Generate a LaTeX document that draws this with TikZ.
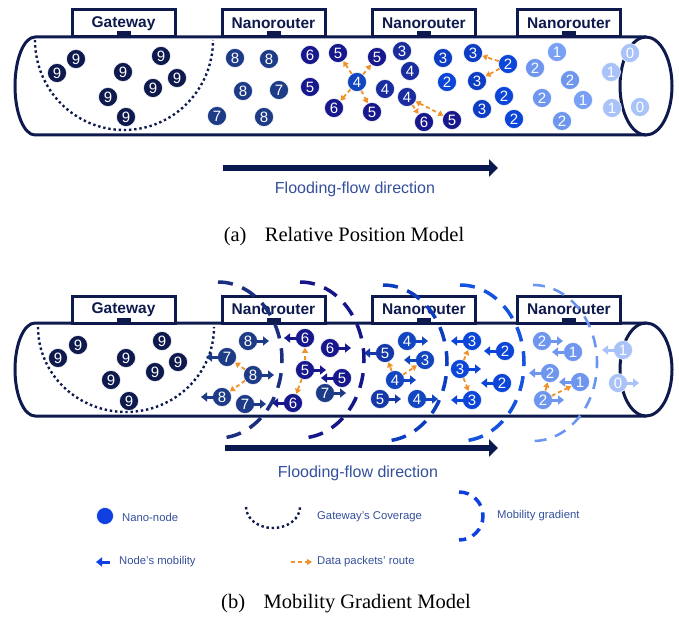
\documentclass[tikz,border=0pt]{standalone}
\usepackage{fontspec}
\setmainfont{Liberation Serif}
\setsansfont{Liberation Sans}
\usetikzlibrary{arrows.meta, positioning}

\definecolor{navy}{HTML}{0E1A4E}
\definecolor{flownavy}{HTML}{0A1850}
\definecolor{cnine}{HTML}{0E1A4E}
\definecolor{ceight}{HTML}{1D3B86}
\definecolor{csix}{HTML}{17188E}
\definecolor{cfive}{HTML}{1438A8}
\definecolor{cfour}{HTML}{1A2D9E}
\definecolor{cfourb}{HTML}{1245C0}
\definecolor{cthree}{HTML}{0D3DC4}
\definecolor{ctwo}{HTML}{0B46D8}
\definecolor{ctwol}{HTML}{6E96EE}
\definecolor{cone}{HTML}{78A0F4}
\definecolor{czero}{HTML}{A9C3F8}
\definecolor{cleg}{HTML}{1040E0}
\definecolor{gone}{HTML}{1B2F80}
\definecolor{gtwo}{HTML}{15168A}
\definecolor{gthree}{HTML}{0D3DBF}
\definecolor{gfour}{HTML}{1452E0}
\definecolor{gfive}{HTML}{6A96F0}
\definecolor{lblblue}{HTML}{34509C}
\definecolor{routeorange}{HTML}{F0922B}

\tikzset{
  tube/.style={draw=navy, line width=3pt},
  devbox/.style={draw=navy, line width=3pt, fill=white, minimum width=103pt, minimum height=27pt,
    inner sep=0pt, text=navy, font=\sffamily\bfseries\fontsize{15.5}{16}\selectfont},
  nn/.style={circle, draw=white, line width=0.5pt, minimum size=19pt, inner sep=0pt, text=white,
    font=\sffamily\fontsize{15}{15}\selectfont},
  mob/.style={line width=3pt, -{Triangle[width=9pt,length=6pt]}},
  route/.style={draw=routeorange, line width=1.8pt, dash pattern=on 4pt off 3pt,
    -{Triangle[width=6pt,length=5pt]}},
  grad/.style={line width=3.5pt, dash pattern=on 15pt off 10pt},
  cover/.style={draw=navy, line width=2.4pt, dash pattern=on 2.4pt off 2.8pt},
  flow/.style={draw=flownavy, line width=6pt, -{Triangle[width=17pt,length=9pt]}},
  lbl/.style={text=lblblue, font=\sffamily\fontsize{16}{16}\selectfont},
  leg/.style={text=lblblue, anchor=west, inner sep=0pt, font=\sffamily\fontsize{11.3}{12}\selectfont},
  captext/.style={font=\fontsize{20.5}{21}\selectfont},
}

\begin{document}
\begin{tikzpicture}[x=1pt, y=-1pt]
\useasboundingbox (0,0) rectangle (679,617);

% Tubes
\foreach \tt/\tb in {37/135, 323/416}{
  \pgfmathsetmacro{\tubr}{(\tb-\tt)/2}
  \pgfmathsetmacro{\tubc}{(\tb+\tt)/2}
  \draw[tube] (646,\tt) -- (35,\tt) arc[start angle=-90, end angle=-270, x radius=20, y radius=\tubr] -- (646,\tb);
  \draw[tube] (646,\tubc) ellipse[x radius=26, y radius=\tubr];
}

% Gateway and nanorouters
\foreach \y/\p in {23.5/a, 309.5/b}{
  \node[devbox] (\p gw) at (123.5,\y) {Gateway};
  \node[devbox] (\p nr1) at (273.5,\y) {Nanorouter};
  \node[devbox] (\p nr2) at (424,\y) {Nanorouter};
  \node[devbox] (\p nr3) at (569,\y) {Nanorouter};
  \foreach \bx in {gw,nr1,nr2,nr3}
    \fill[navy] ([xshift=-7pt]\p\bx.south) rectangle ++(14,-7);
}

% Gateway's coverage
\draw[cover] (35,40) arc[start angle=180, end angle=0, x radius=89, y radius=90];
\draw[cover] (38,327) arc[start angle=180, end angle=0, x radius=88, y radius=85];

% (a) nano-nodes
\foreach \nm/\x/\y/\n/\cl in {a1/76/59/9/cnine, a2/57/73/9/cnine, a3/123/72/9/cnine, a4/161/56/9/cnine,
    a5/177/78/9/cnine, a6/153/88/9/cnine, a7/108/97/9/cnine, a8/126/117/9/cnine,
    a9/235/58/8/ceight, a10/269/59/8/ceight, a11/243/91/8/ceight, a12/279/90/7/ceight,
    a13/217/116/7/ceight, a14/264/117/8/ceight,
    a15/310/55/6/csix, a16/310/87/5/csix, a17/338/53/5/csix, a18/377/57/5/csix,
    a19/334/108/6/csix, a20/372/112/5/csix, a21/424/122/6/csix, a22/452/120/5/csix,
    a23/357/82/4/cfourb, a24/410/71/4/cfour, a25/385/89/4/cfour, a26/407/97/4/cfour,
    a27/402/51/3/cfour, a28/443/58/3/cthree, a29/473/53/3/cthree, a30/477/81/3/cthree, a31/482/109/3/cthree,
    a32/447/82/2/ctwo, a33/508/64/2/ctwo, a34/504/96/2/ctwo, a35/514/119/2/ctwo,
    a36/535/68/2/ctwol, a37/570/80/2/ctwol, a38/542/98/2/ctwol, a39/562/121/2/ctwol,
    a40/557/52/1/cone, a41/583/100/1/cone, a42/611/72/1/czero, a43/612/108/1/czero,
    a44/630/53/0/czero, a45/640/107/0/czero}
  \node[nn, fill=\cl] (\nm) at (\x,\y) {\n};

% (a) data packets
\foreach \s/\e in {a23/a17, a23/a18, a23/a19, a23/a20, a26/a21, a33/a29, a33/a30}
  \draw[route] (\s) -- (\e);
\draw[route, {Triangle[width=6pt,length=5pt]}-{Triangle[width=6pt,length=5pt]}] (a26) -- (a22);

% Flooding-flow direction (a)
\coordinate (fa0) at (223,168);
\coordinate (fa1) at (498,168);
\draw[flow] (fa0) -- (fa1);
\node[lbl] (flowa) at (355,189) {Flooding-flow direction};
\node[captext] (capa) at (344,237) {(a)\hspace{0.9em}Relative Position Model};

% (b) nano-nodes
\foreach \nm/\x/\y in {b1/78/345, b2/58/358, b3/126/358, b4/162/341, b5/178/362, b6/155/372, b7/111/380, b8/129/401}
  \node[nn, fill=cnine] (\nm) at (\x,\y) {9};

\foreach \nm/\x/\y/\n/\cl/\d in {b9/248/341/8/ceight/1, b10/227/357/7/ceight/-1, b11/253/375/8/ceight/1,
    b12/222/397/8/ceight/-1, b13/245/404/7/ceight/1,
    b14/305/338/6/csix/-1, b15/330/348/6/csix/1, b16/305/370/5/csix/1, b17/342/378/5/csix/-1,
    b18/325/393/7/ceight/1, b19/293/403/6/csix/-1,
    b20/385/353/5/cfive/-1, b21/380/399/5/cfive/1,
    b22/407/341/4/cfourb/1, b23/395/380/4/cfourb/1, b24/417/399/4/cfourb/1, b25/425/360/3/cfourb/-1,
    b26/472/341/3/ctwo/-1, b27/460/369/3/ctwo/1, b28/472/400/3/ctwo/-1,
    b29/505/351/2/ctwo/-1, b30/502/383/2/ctwo/-1,
    b31/542/341/2/ctwol/1, b32/573/352/1/ctwol/-1, b33/550/373/2/ctwol/-1, b34/580/382/1/ctwol/-1,
    b35/543/400/2/ctwol/1, b36/623/350/1/czero/-1, b37/618/383/0/czero/1}{
  \node[nn, fill=\cl] (\nm) at (\x,\y) {\n};
  \draw[mob, \cl] ([xshift=\d*8pt]\nm.center) -- ([xshift=\d*21pt]\nm.center);
}

% (b) data packets
\foreach \s/\e in {b11/b10, b11/b12, b16/b14, b16/b19, b23/b20, b23/b25, b27/b26, b27/b28, b35/b33, b35/b34}
  \draw[route] (\s) -- (\e);

% Mobility gradient
\foreach \cx/\cy/\cl in {218/360/gone, 300/360/gtwo, 383/363/gthree, 460/363/gfour}
  \draw[grad, \cl] (\cx,\cy-78) arc[start angle=-90, end angle=90, x radius=64, y radius=78];
\draw[grad, gfive, line width=2.6pt, dash pattern=on 12pt off 9pt] (533,285) arc[start angle=-90, end angle=90, x radius=64, y radius=78];

% Flooding-flow direction (b)
\coordinate (fb0) at (225,448);
\coordinate (fb1) at (498,448);
\draw[flow] (fb0) -- (fb1);
\node[lbl] (flowb) at (358,473) {Flooding-flow direction};

% Legend
\node[nn, fill=cleg, minimum size=17pt] (lnode) at (105,516) {};
\node[leg] (lnodetxt) at (122,517) {Nano-node};
\draw[cover] (246,507) arc[start angle=180, end angle=0, x radius=27, y radius=21];
\node[leg] (lcovtxt) at (317,517) {Gateway’s Coverage};
\draw[grad, cleg, dash pattern=on 10pt off 7pt] (459,492) arc[start angle=-90, end angle=90, x radius=24, y radius=24];
\node[leg] (lgradtxt) at (497,516) {Mobility gradient};
\coordinate (lm0) at (110,562);
\coordinate (lm1) at (96,562);
\draw[mob, cleg] (lm0) -- (lm1);
\node[leg] (lmobtxt) at (119,562) {Node’s mobility};
\coordinate (lr0) at (291,562);
\coordinate (lr1) at (312,562);
\draw[route] (lr0) -- (lr1);
\node[leg] (lroutetxt) at (317,562) {Data packets’ route};

\node[captext] (capb) at (346,604) {(b)\hspace{0.9em}Mobility Gradient Model};

\end{tikzpicture}
\end{document}
